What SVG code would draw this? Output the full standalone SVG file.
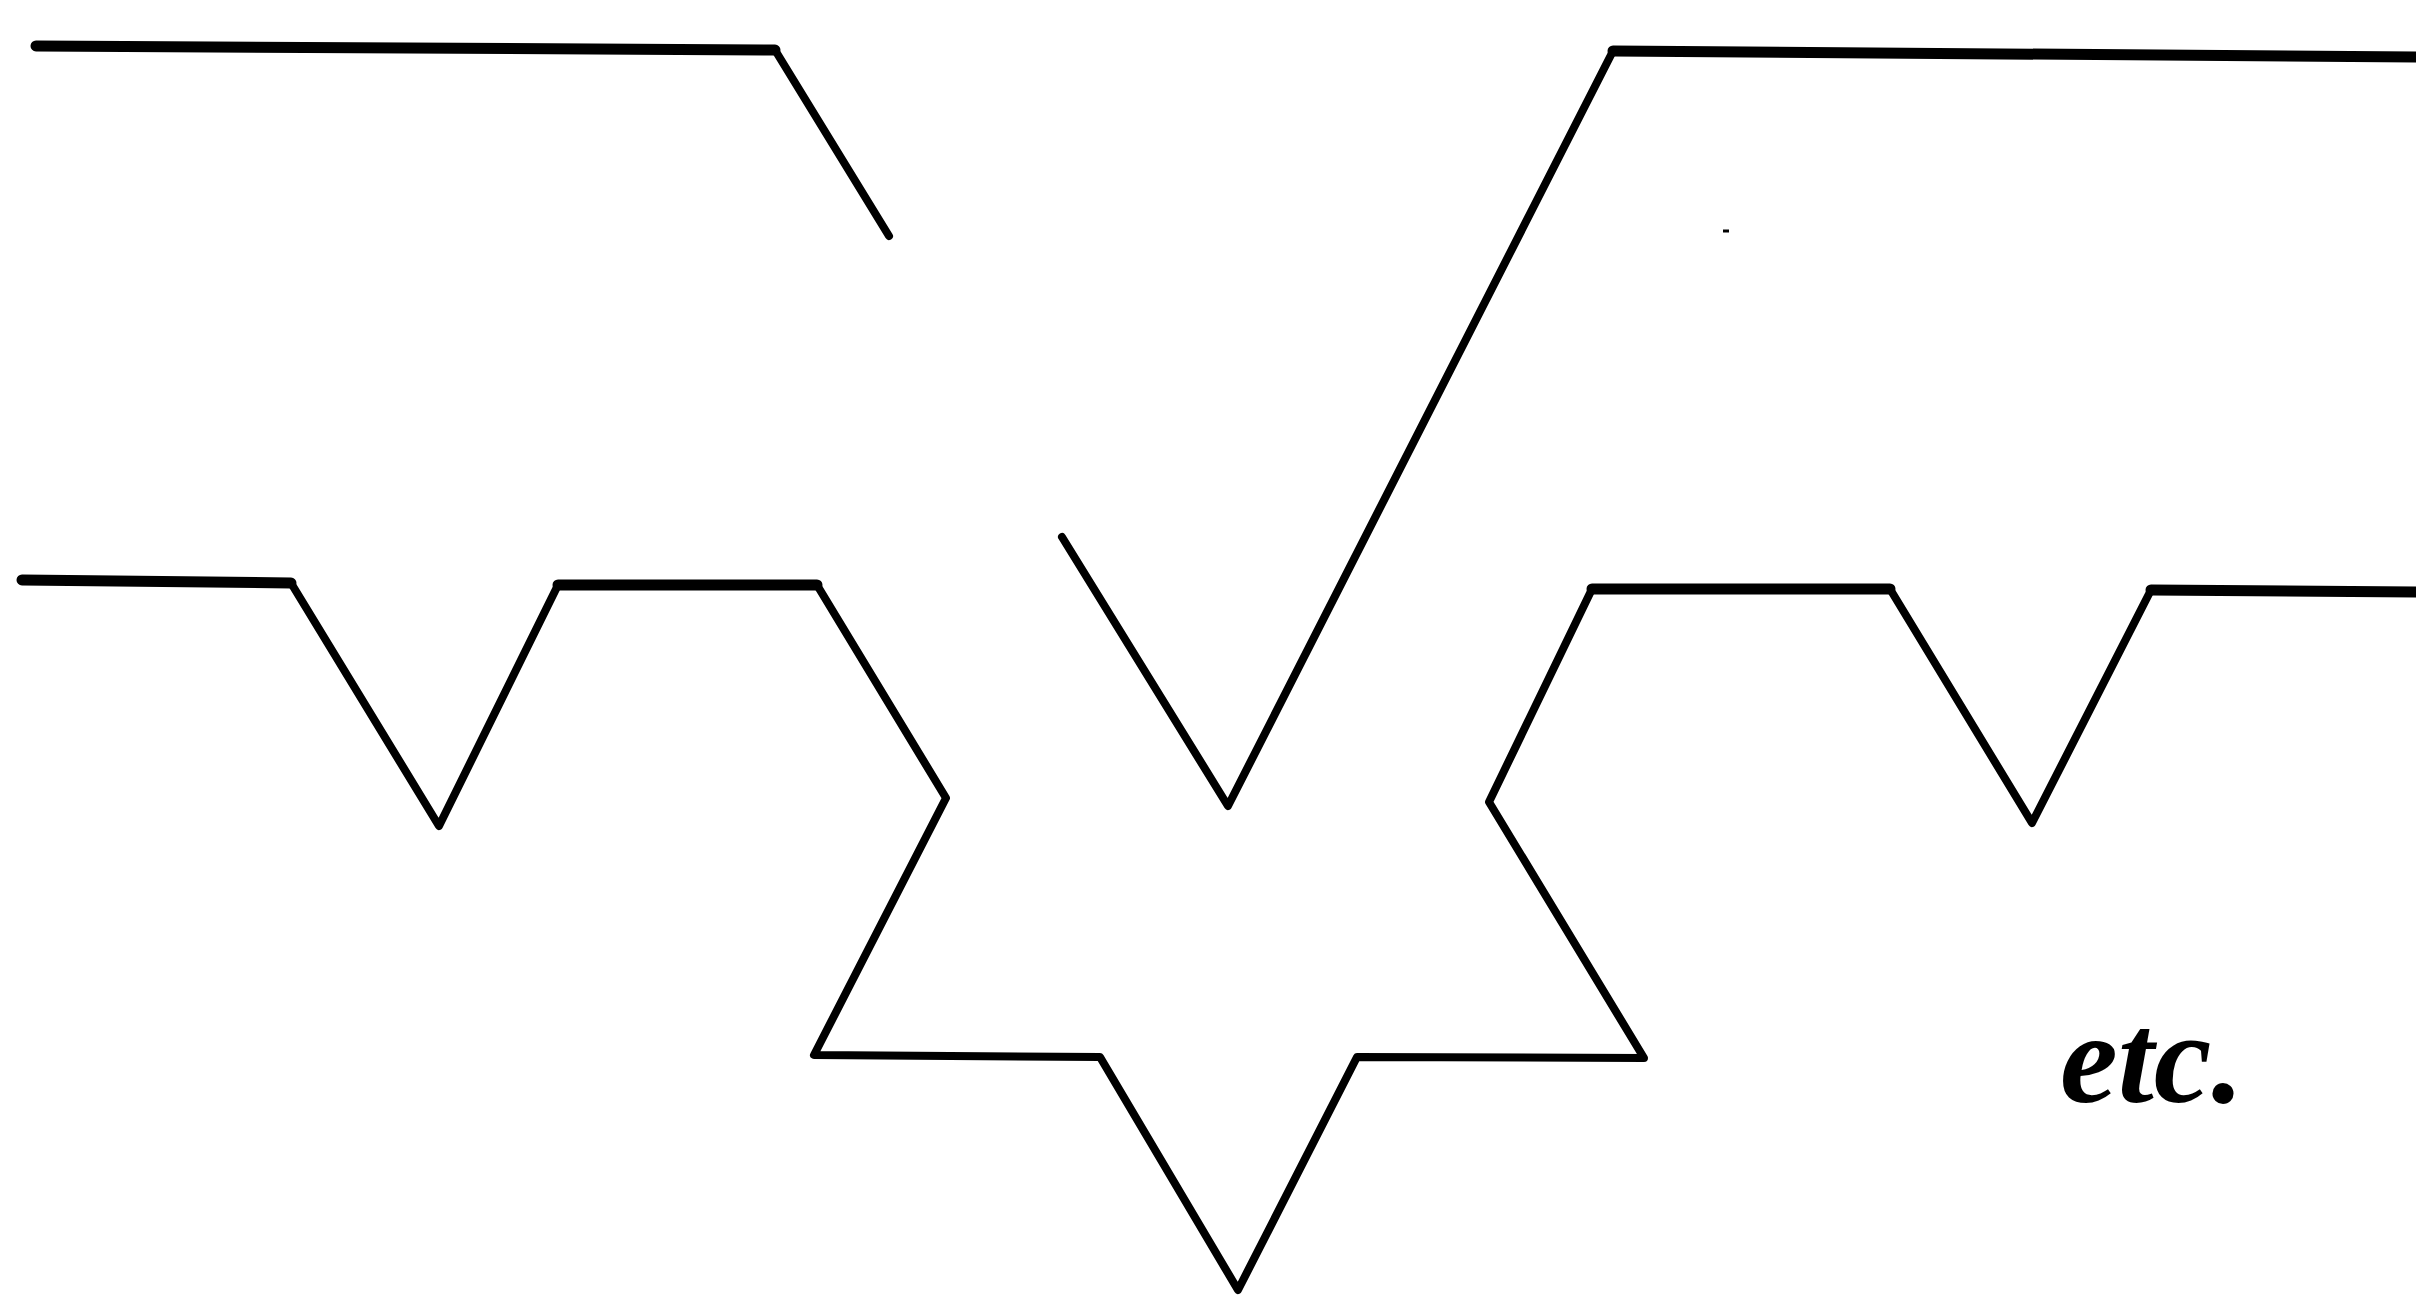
<svg xmlns="http://www.w3.org/2000/svg" width="2416" height="1299" viewBox="0 0 2416 1299">
<style>
.curve{fill:none;stroke:#000;stroke-width:8;stroke-linejoin:round;stroke-linecap:round}
.flat{fill:none;stroke:#000;stroke-width:11;stroke-linecap:round}
.lbl{font-family:"Liberation Serif","Times New Roman",serif;font-style:italic;font-weight:bold;font-size:130px;fill:#000}
</style>
<rect width="2416" height="1299" fill="#fff"/>
<g id="connectors">
<polyline id="stage1-left" class="curve" points="36,46 775,50 889,236"/>
<path class="flat" d="M36,46 L775,50"/>
<polyline id="stage1-right" class="curve" points="1062,537 1228,806 1613,51 2420,57"/>
<path class="flat" d="M1613,51 L2420,57"/>
<polyline id="stage2" class="curve" points="22,580 291,583 439,826 558,585 817,585 946,798 814,1055 1100,1057 1238,1290 1357,1057 1644,1058 1489,802 1592,589 1890,589 2032,823 2151,590 2420,592"/>
<path class="flat" d="M22,580 L291,583 M558,585 L817,585 M1592,589 L1890,589 M2151,590 L2420,592"/>
<line id="speck" x1="1723" y1="231" x2="1729" y2="231" stroke="#000" stroke-width="3"/>
</g>
<g id="label-etc">
<text class="lbl" x="2060" y="1102">etc.</text>
</g>
</svg>
